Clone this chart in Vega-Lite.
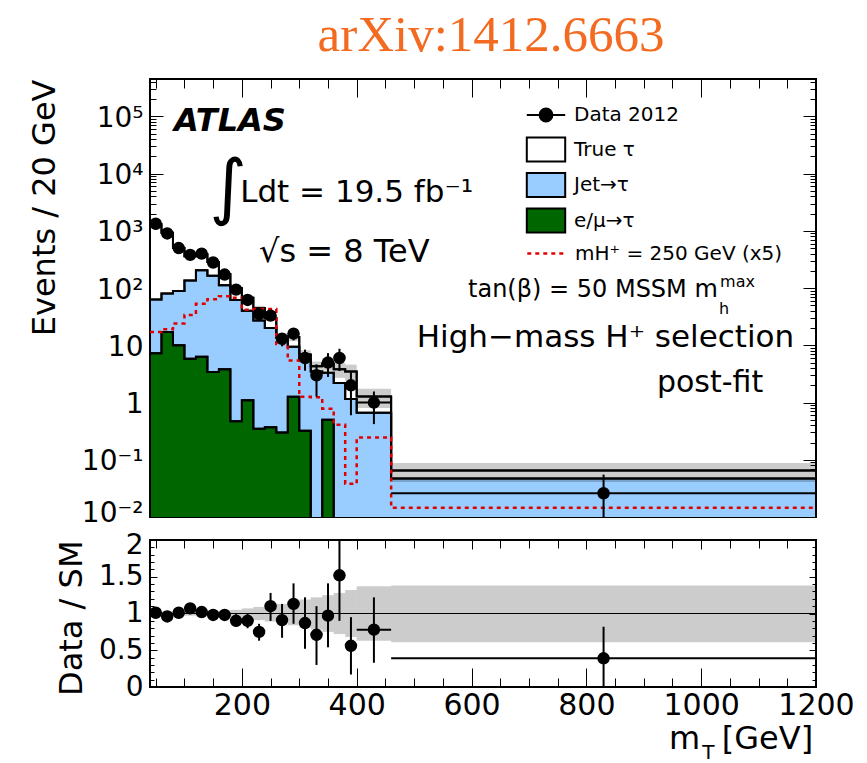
{
"$schema": "https://vega.github.io/schema/vega-lite/v6.json",
"background": "white",
"padding": {"left": 27, "top": 9, "right": 0, "bottom": 0},
"title": {"text": "arXiv:1412.6663", "font": "Liberation Serif", "fontSize": 51, "fontWeight": "normal", "color": "#f26b21", "anchor": "middle", "offset": 16, "dx": 50},
"datasets": {
"bins": [
{"lo":40,"hi":60,"c":50,"emu":7.3,"jet":63,"total":1300,"sig":17,"blo":1261,"bhi":1339,"data":1330,"dlo":1290,"dhi":1370,"ratio":1.01,"rlo":0.99,"rhi":1.03,"ulo":0.97,"uhi":1.03},
{"lo":60,"hi":80,"c":70,"emu":17,"jet":80,"total":930,"sig":19,"blo":902,"bhi":958,"data":900,"dlo":870,"dhi":930,"ratio":0.96,"rlo":0.94,"rhi":0.98,"ulo":0.97,"uhi":1.03},
{"lo":80,"hi":100,"c":90,"emu":10,"jet":89,"total":500,"sig":24,"blo":485,"bhi":515,"data":500,"dlo":478,"dhi":522,"ratio":1.01,"rlo":0.98,"rhi":1.04,"ulo":0.97,"uhi":1.03},
{"lo":100,"hi":120,"c":110,"emu":5.8,"jet":135,"total":360,"sig":34,"blo":349,"bhi":371,"data":380,"dlo":360,"dhi":400,"ratio":1.07,"rlo":1.03,"rhi":1.11,"ulo":0.97,"uhi":1.03},
{"lo":120,"hi":140,"c":130,"emu":6.3,"jet":205,"total":390,"sig":53,"blo":378,"bhi":402,"data":400,"dlo":380,"dhi":420,"ratio":1.02,"rlo":0.98,"rhi":1.06,"ulo":0.97,"uhi":1.03},
{"lo":140,"hi":160,"c":150,"emu":3.4,"jet":165,"total":285,"sig":64,"blo":274,"bhi":296,"data":280,"dlo":263,"dhi":297,"ratio":0.98,"rlo":0.93,"rhi":1.03,"ulo":0.96,"uhi":1.04},
{"lo":160,"hi":180,"c":170,"emu":3.8,"jet":112,"total":175,"sig":72,"blo":168,"bhi":182,"data":172,"dlo":159,"dhi":185,"ratio":0.98,"rlo":0.92,"rhi":1.04,"ulo":0.96,"uhi":1.04},
{"lo":180,"hi":200,"c":190,"emu":0.47,"jet":62,"total":100,"sig":68,"blo":95,"bhi":105,"data":94,"dlo":84,"dhi":104,"ratio":0.9,"rlo":0.82,"rhi":0.99,"ulo":0.95,"uhi":1.05},
{"lo":200,"hi":220,"c":210,"emu":1.1,"jet":40,"total":68,"sig":42,"blo":63,"bhi":73,"data":62,"dlo":54,"dhi":70,"ratio":0.9,"rlo":0.8,"rhi":1.0,"ulo":0.93,"uhi":1.07},
{"lo":220,"hi":240,"c":230,"emu":0.35,"jet":27,"total":45,"sig":43,"blo":41,"bhi":49,"data":35,"dlo":29.4,"dhi":40.1,"ratio":0.75,"rlo":0.63,"rhi":0.86,"ulo":0.91,"uhi":1.09},
{"lo":240,"hi":260,"c":250,"emu":0.37,"jet":20,"total":30,"sig":43,"blo":26.7,"bhi":33.3,"data":33,"dlo":27,"dhi":38.4,"ratio":1.1,"rlo":0.9,"rhi":1.28,"ulo":0.89,"uhi":1.11},
{"lo":260,"hi":280,"c":270,"emu":0.3,"jet":13.5,"total":14.5,"sig":10.5,"blo":12.6,"bhi":16.4,"data":13,"dlo":9.6,"dhi":16.1,"ratio":0.91,"rlo":0.67,"rhi":1.13,"ulo":0.87,"uhi":1.13},
{"lo":280,"hi":300,"c":290,"emu":1.26,"jet":9.4,"total":14,"sig":5.4,"blo":11.8,"bhi":16.2,"data":16,"dlo":12.2,"dhi":20,"ratio":1.13,"rlo":0.86,"rhi":1.41,"ulo":0.84,"uhi":1.16},
{"lo":300,"hi":320,"c":310,"emu":0.32,"jet":5.5,"total":6.9,"sig":1.26,"blo":5.6,"bhi":8.2,"data":6,"dlo":3.6,"dhi":8.4,"ratio":0.87,"rlo":0.52,"rhi":1.22,"ulo":0.81,"uhi":1.19},
{"lo":320,"hi":340,"c":330,"emu":0.001,"jet":3.5,"total":4.3,"sig":1.24,"blo":3.4,"bhi":5.2,"data":3,"dlo":1.27,"dhi":4.65,"ratio":0.71,"rlo":0.3,"rhi":1.1,"ulo":0.78,"uhi":1.22},
{"lo":340,"hi":360,"c":350,"emu":0.5,"jet":3.3,"total":4.8,"sig":0.78,"blo":3.6,"bhi":6.0,"data":5,"dlo":2.8,"dhi":7.3,"ratio":0.97,"rlo":0.54,"rhi":1.41,"ulo":0.75,"uhi":1.25},
{"lo":360,"hi":380,"c":370,"emu":0.001,"jet":2.2,"total":3.8,"sig":0.41,"blo":2.7,"bhi":4.9,"data":6,"dlo":3.55,"dhi":8.7,"ratio":1.52,"rlo":0.9,"rhi":2.2,"ulo":0.72,"uhi":1.28},
{"lo":380,"hi":400,"c":390,"emu":0.001,"jet":1.15,"total":3.5,"sig":0.038,"blo":2.4,"bhi":4.6,"data":2,"dlo":0.6,"dhi":3.4,"ratio":0.56,"rlo":0.17,"rhi":0.95,"ulo":0.68,"uhi":1.32},
{"lo":400,"hi":460,"c":430,"emu":0.001,"jet":0.66,"total":1.27,"sig":0.245,"blo":0.8,"bhi":1.74,"data":1,"dlo":0.42,"dhi":1.56,"ratio":0.78,"rlo":0.33,"rhi":1.22,"ulo":0.63,"uhi":1.37},
{"lo":460,"hi":1200,"c":830,"emu":0.001,"jet":0.047,"total":0.065,"sig":0.0145,"blo":0.041,"bhi":0.088,"data":0.026,"dlo":0.001,"dhi":0.055,"ratio":0.39,"rlo":0,"rhi":0.82,"ulo":0.61,"uhi":1.38}
],
"edges": [
{"lo":40,"emu":7.3,"jet":63,"total":1300,"sig":17},
{"lo":60,"emu":17,"jet":80,"total":930,"sig":19},
{"lo":80,"emu":10,"jet":89,"total":500,"sig":24},
{"lo":100,"emu":5.8,"jet":135,"total":360,"sig":34},
{"lo":120,"emu":6.3,"jet":205,"total":390,"sig":53},
{"lo":140,"emu":3.4,"jet":165,"total":285,"sig":64},
{"lo":160,"emu":3.8,"jet":112,"total":175,"sig":72},
{"lo":180,"emu":0.47,"jet":62,"total":100,"sig":68},
{"lo":200,"emu":1.1,"jet":40,"total":68,"sig":42},
{"lo":220,"emu":0.35,"jet":27,"total":45,"sig":43},
{"lo":240,"emu":0.37,"jet":20,"total":30,"sig":43},
{"lo":260,"emu":0.3,"jet":13.5,"total":14.5,"sig":10.5},
{"lo":280,"emu":1.26,"jet":9.4,"total":14,"sig":5.4},
{"lo":300,"emu":0.32,"jet":5.5,"total":6.9,"sig":1.26},
{"lo":320,"emu":0.001,"jet":3.5,"total":4.3,"sig":1.24},
{"lo":340,"emu":0.5,"jet":3.3,"total":4.8,"sig":0.78},
{"lo":360,"emu":0.001,"jet":2.2,"total":3.8,"sig":0.41},
{"lo":380,"emu":0.001,"jet":1.15,"total":3.5,"sig":0.038},
{"lo":400,"emu":0.001,"jet":0.66,"total":1.27,"sig":0.245},
{"lo":460,"emu":0.001,"jet":0.047,"total":0.065,"sig":0.0145},
{"lo":1200,"emu":0.001,"jet":0.047,"total":0.065,"sig":0.0145}
]
},
"spacing": 23,
"bounds": "flush",
"vconcat": [
{
"width": 666, "height": 438,
"data": {"name": "bins"},
"resolve": {"axis": {"x": "independent", "y": "independent"}},
"layer": [
{"data": {"name": "edges"},
 "mark": {"type": "area", "interpolate": "step-after", "clip": true, "stroke": "black", "strokeWidth": 2},
 "encoding": {
  "x": {"field": "lo", "type": "quantitative", "scale": {"type": "linear", "domain": [40, 1200], "nice": false, "zero": false},
        "axis": {"orient": "bottom", "values": [200,400,600,800,1000], "labels": false, "tickSize": -18, "title": null}},
  "y": {"field": "total", "type": "quantitative", "stack": null, "scale": {"type": "log", "domain": [0.01, 450000], "nice": false},
        "axis": {"orient": "left", "values": [0.01,0.1,1,10,100,1000,10000,100000], "ticks": false, "tickSize": 0, "labelPadding": 7, "labelOffset": {"condition": {"test": "datum.value < 0.05", "value": -4}, "value": 2}, "labelFontSize": 28, "labelOverlap": false, "labelFlush": false,
                 "labelExpr": "datum.value >= 90000 ? '10⁵' : datum.value >= 9000 ? '10⁴' : datum.value >= 900 ? '10³' : datum.value >= 90 ? '10²' : datum.value >= 9 ? '10' : datum.value >= 0.9 ? '1' : datum.value >= 0.09 ? '10⁻¹' : '10⁻²'",
                 "title": "Events / 20 GeV", "titleFontSize": 32, "titleFontWeight": "normal", "titleAnchor": "end", "titleAlign": "right", "titleBaseline": "middle", "titleAngle": 270, "titleX": -106, "titleY": 0}},
  "y2": {"datum": 0.001},
  "fill": {"datum": "True τ", "type": "nominal",
    "scale": {"domain": ["True τ", "Jet→τ", "e/μ→τ"], "range": ["white", "#99ccff", "#006600"]},
    "legend": {"orient": "none", "legendX": 379, "legendY": 53.5, "title": null, "padding": 0, "symbolSize": 1024, "rowPadding": 2.5, "labelFontSize": 20, "labelOffset": 11, "labelLimit": 400, "labelColor": "black", "symbolStrokeWidth": 2, "symbolStrokeColor": "black",
      "encode": {"symbols": {"update": {
        "shape": {"value": "M-1.2,-0.75H1.2V0.75H-1.2Z"},
        "stroke": {"value": "black"},
        "strokeWidth": {"value": 2},
        "opacity": {"value": 1},
        "fillOpacity": {"value": 1}
      }}}}}
 }},
{"data": {"name": "edges"},
 "mark": {"type": "area", "interpolate": "step-after", "clip": true, "stroke": "black", "strokeWidth": 2},
 "encoding": {
  "x": {"field": "lo", "type": "quantitative", "scale": {"type": "linear", "domain": [40, 1200], "nice": false, "zero": false},
        "axis": {"orient": "bottom", "values": [50,100,150,250,300,350,450,500,550,650,700,750,850,900,950,1050,1100,1150], "labels": false, "tickSize": -9, "title": null}},
  "y": {"field": "jet", "type": "quantitative", "stack": null, "scale": {"type": "log", "domain": [0.01, 450000], "nice": false},
        "axis": {"orient": "left", "values": [0.1,1,10,100,1000,10000,100000], "labels": false, "tickSize": -13, "title": null}},
  "y2": {"datum": 0.001},
  "fill": {"datum": "Jet→τ", "type": "nominal", "scale": {"domain": ["True τ", "Jet→τ", "e/μ→τ"], "range": ["white", "#99ccff", "#006600"]}}
 }},
{"data": {"name": "edges"},
 "mark": {"type": "area", "interpolate": "step-after", "clip": true, "stroke": "black", "strokeWidth": 2},
 "encoding": {
  "x": {"field": "lo", "type": "quantitative", "scale": {"type": "linear", "domain": [40, 1200], "nice": false, "zero": false},
        "axis": {"orient": "top", "values": [200,400,600,800,1000], "labels": false, "tickSize": -18, "title": null}},
  "y": {"field": "emu", "type": "quantitative", "stack": null, "scale": {"type": "log", "domain": [0.01, 450000], "nice": false},
        "axis": {"orient": "left", "values": [0.02,0.03,0.04,0.05,0.06,0.07,0.08,0.09,0.2,0.3,0.4,0.5,0.6,0.7,0.8,0.9,2,3,4,5,6,7,8,9,20,30,40,50,60,70,80,90,200,300,400,500,600,700,800,900,2000,3000,4000,5000,6000,7000,8000,9000,20000,30000,40000,50000,60000,70000,80000,90000,200000,300000,400000], "labels": false, "tickSize": -6, "title": null}},
  "y2": {"datum": 0.001},
  "fill": {"datum": "e/μ→τ", "type": "nominal", "scale": {"domain": ["True τ", "Jet→τ", "e/μ→τ"], "range": ["white", "#99ccff", "#006600"]}}
 }},
{"mark": {"type": "rect", "clip": true, "fill": "#000000", "fillOpacity": 0.2},
 "encoding": {
  "x": {"field": "lo", "type": "quantitative", "scale": {"type": "linear", "domain": [40, 1200], "nice": false, "zero": false},
        "axis": {"orient": "top", "values": [50,100,150,250,300,350,450,500,550,650,700,750,850,900,950,1050,1100,1150], "labels": false, "tickSize": -9, "title": null}},
  "x2": {"field": "hi"},
  "y": {"field": "blo", "type": "quantitative", "scale": {"type": "log", "domain": [0.01, 450000], "nice": false},
        "axis": {"orient": "right", "values": [0.1,1,10,100,1000,10000,100000], "labels": false, "tickSize": -13, "title": null}},
  "y2": {"field": "bhi"}
 }},
{"data": {"name": "edges"},
 "transform": [{"fold": ["total", "jet", "emu"], "as": ["series", "val"]}],
 "mark": {"type": "line", "interpolate": "step-after", "color": "black", "strokeWidth": 2, "clip": true},
 "encoding": {
  "x": {"field": "lo", "type": "quantitative", "scale": {"type": "linear", "domain": [40, 1200], "nice": false, "zero": false}, "axis": null},
  "y": {"field": "val", "type": "quantitative", "scale": {"type": "log", "domain": [0.01, 450000], "nice": false},
        "axis": {"orient": "right", "values": [0.02,0.03,0.04,0.05,0.06,0.07,0.08,0.09,0.2,0.3,0.4,0.5,0.6,0.7,0.8,0.9,2,3,4,5,6,7,8,9,20,30,40,50,60,70,80,90,200,300,400,500,600,700,800,900,2000,3000,4000,5000,6000,7000,8000,9000,20000,30000,40000,50000,60000,70000,80000,90000,200000,300000,400000], "labels": false, "tickSize": -6, "title": null}},
  "detail": {"field": "series", "type": "nominal"}
 }},
{"data": {"name": "edges"},
 "mark": {"type": "line", "interpolate": "step-after", "strokeWidth": 2.5, "color": "#e00000", "clip": true},
 "encoding": {
  "x": {"field": "lo", "type": "quantitative", "scale": {"type": "linear", "domain": [40, 1200], "nice": false, "zero": false}, "axis": null},
  "y": {"field": "sig", "type": "quantitative", "scale": {"type": "log", "domain": [0.01, 450000], "nice": false}, "axis": null},
  "strokeDash": {"datum": "mH⁺ = 250 GeV (x5)", "type": "nominal", "scale": {"domain": ["mH⁺ = 250 GeV (x5)"], "range": [[4, 4]]},
    "legend": {"orient": "none", "legendX": 379, "legendY": 157, "title": null, "padding": 0, "symbolSize": 1024, "labelFontSize": 20, "labelOffset": 11, "labelLimit": 400, "labelColor": "black", "symbolStrokeWidth": 2.5, "symbolStrokeColor": "#e00000",
      "encode": {"symbols": {"update": {
        "shape": {"value": "M-1.2,0H1.2"},
        "stroke": {"value": "#e00000"},
        "strokeWidth": {"value": 2.5},
        "opacity": {"value": 1}
      }}}}}
 }},
{"mark": {"type": "rule", "color": "black", "strokeWidth": 2, "clip": true},
 "encoding": {
  "x": {"field": "lo", "type": "quantitative", "scale": {"type": "linear", "domain": [40, 1200], "nice": false, "zero": false}, "axis": null},
  "x2": {"field": "hi"},
  "y": {"field": "data", "type": "quantitative", "scale": {"type": "log", "domain": [0.01, 450000], "nice": false}, "axis": null},
  "opacity": {"datum": "Data 2012", "type": "nominal", "scale": {"domain": ["Data 2012"], "range": [1]},
    "legend": {"orient": "none", "legendX": 379, "legendY": 19, "title": null, "padding": 0, "symbolSize": 1024, "labelFontSize": 20, "labelOffset": 11, "labelLimit": 400, "labelColor": "black", "symbolStrokeWidth": 2, "symbolStrokeColor": "black", "symbolFillColor": "black",
      "encode": {"symbols": {"update": {
        "shape": {"value": "M-1.2,0H1.2M0.4,0A0.4,0.4,0,1,1,-0.4,0A0.4,0.4,0,1,1,0.4,0Z"},
        "stroke": {"value": "black"},
        "fill": {"value": "black"},
        "strokeWidth": {"value": 2},
        "fillOpacity": {"value": 1}
      }}}}}
 }},
{"mark": {"type": "rule", "color": "black", "strokeWidth": 2, "clip": true},
 "encoding": {
  "x": {"field": "c", "type": "quantitative", "scale": {"type": "linear", "domain": [40, 1200], "nice": false, "zero": false}, "axis": null},
  "y": {"field": "dlo", "type": "quantitative", "scale": {"type": "log", "domain": [0.01, 450000], "nice": false}, "axis": null},
  "y2": {"field": "dhi"}
 }},
{"mark": {"type": "point", "filled": true, "size": 120, "opacity": 1, "fill": "black", "stroke": "black", "strokeWidth": 1.5},
 "encoding": {
  "x": {"field": "c", "type": "quantitative", "scale": {"type": "linear", "domain": [40, 1200], "nice": false, "zero": false}, "axis": null},
  "y": {"field": "data", "type": "quantitative", "scale": {"type": "log", "domain": [0.01, 450000], "nice": false}, "axis": null}
 }},
{"data": {"values": [{}]},
 "mark": {"type": "text", "text": "ATLAS", "fontSize": 32, "fontWeight": "bold", "fontStyle": "italic", "align": "left", "baseline": "alphabetic", "color": "black"},
 "encoding": {"x": {"datum": 82, "type": "quantitative", "scale": {"type": "linear", "domain": [40, 1200], "nice": false, "zero": false}, "axis": null},
              "y": {"datum": 56000, "type": "quantitative", "scale": {"type": "log", "domain": [0.01, 450000], "nice": false}, "axis": null}}},
{"data": {"values": [{}]},
 "mark": {"type": "text", "text": "∫", "fontSize": 72, "align": "left", "baseline": "alphabetic", "color": "black"},
 "encoding": {"x": {"datum": 143, "type": "quantitative", "scale": {"type": "linear", "domain": [40, 1200], "nice": false, "zero": false}, "axis": null},
              "y": {"datum": 2240, "type": "quantitative", "scale": {"type": "log", "domain": [0.01, 450000], "nice": false}, "axis": null}}},
{"data": {"values": [{}]},
 "mark": {"type": "text", "text": "Ldt = 19.5 fb⁻¹", "fontSize": 31, "align": "left", "baseline": "alphabetic", "color": "black"},
 "encoding": {"x": {"datum": 197, "type": "quantitative", "scale": {"type": "linear", "domain": [40, 1200], "nice": false, "zero": false}, "axis": null},
              "y": {"datum": 3215, "type": "quantitative", "scale": {"type": "log", "domain": [0.01, 450000], "nice": false}, "axis": null}}},
{"data": {"values": [{}]},
 "mark": {"type": "text", "text": "√s = 8 TeV", "fontSize": 32, "align": "left", "baseline": "alphabetic", "color": "black"},
 "encoding": {"x": {"datum": 230, "type": "quantitative", "scale": {"type": "linear", "domain": [40, 1200], "nice": false, "zero": false}, "axis": null},
              "y": {"datum": 287, "type": "quantitative", "scale": {"type": "log", "domain": [0.01, 450000], "nice": false}, "axis": null}}},
{"data": {"values": [{}]},
 "mark": {"type": "text", "text": "tan(β) = 50 MSSM m", "fontSize": 24, "align": "right", "baseline": "alphabetic", "color": "black"},
 "encoding": {"x": {"datum": 1029, "type": "quantitative", "scale": {"type": "linear", "domain": [40, 1200], "nice": false, "zero": false}, "axis": null},
              "y": {"datum": 70, "type": "quantitative", "scale": {"type": "log", "domain": [0.01, 450000], "nice": false}, "axis": null}}},
{"data": {"values": [{}]},
 "mark": {"type": "text", "text": "max", "fontSize": 16, "align": "left", "baseline": "alphabetic", "color": "black"},
 "encoding": {"x": {"datum": 1033, "type": "quantitative", "scale": {"type": "linear", "domain": [40, 1200], "nice": false, "zero": false}, "axis": null},
              "y": {"datum": 105, "type": "quantitative", "scale": {"type": "log", "domain": [0.01, 450000], "nice": false}, "axis": null}}},
{"data": {"values": [{}]},
 "mark": {"type": "text", "text": "h", "fontSize": 16, "align": "left", "baseline": "alphabetic", "color": "black"},
 "encoding": {"x": {"datum": 1031, "type": "quantitative", "scale": {"type": "linear", "domain": [40, 1200], "nice": false, "zero": false}, "axis": null},
              "y": {"datum": 35.4, "type": "quantitative", "scale": {"type": "log", "domain": [0.01, 450000], "nice": false}, "axis": null}}},
{"data": {"values": [{}]},
 "mark": {"type": "text", "text": "High−mass H⁺ selection", "fontSize": 31, "align": "right", "baseline": "alphabetic", "color": "black"},
 "encoding": {"x": {"datum": 1162, "type": "quantitative", "scale": {"type": "linear", "domain": [40, 1200], "nice": false, "zero": false}, "axis": null},
              "y": {"datum": 9.38, "type": "quantitative", "scale": {"type": "log", "domain": [0.01, 450000], "nice": false}, "axis": null}}},
{"data": {"values": [{}]},
 "mark": {"type": "text", "text": "post-fit", "fontSize": 30, "align": "right", "baseline": "alphabetic", "color": "black"},
 "encoding": {"x": {"datum": 1108, "type": "quantitative", "scale": {"type": "linear", "domain": [40, 1200], "nice": false, "zero": false}, "axis": null},
              "y": {"datum": 1.53, "type": "quantitative", "scale": {"type": "log", "domain": [0.01, 450000], "nice": false}, "axis": null}}}
]
},
{
"width": 666, "height": 147,
"data": {"name": "bins"},
"resolve": {"axis": {"x": "independent", "y": "independent"}},
"layer": [
{"mark": {"type": "rect", "clip": true, "fill": "#000000", "fillOpacity": 0.2},
 "encoding": {
  "x": {"field": "lo", "type": "quantitative", "scale": {"type": "linear", "domain": [40, 1200], "nice": false, "zero": false},
        "axis": {"orient": "bottom", "values": [200,400,600,800,1000,1200], "format": "d", "ticks": false, "tickSize": 0, "labelPadding": 3, "labelFontSize": 30, "labelFlush": false, "labelOverlap": false, "title": null}},
  "x2": {"field": "hi"},
  "y": {"field": "ulo", "type": "quantitative", "scale": {"type": "linear", "domain": [0, 2], "nice": false, "zero": false},
        "axis": {"orient": "left", "values": [0,0.5,1,1.5,2], "format": "~g", "ticks": false, "tickSize": 0, "labelPadding": 7, "labelOffset": {"condition": {"test": "datum.value > 1.9", "value": 5}, "value": 0}, "labelFontSize": 28, "labelFlush": false, "labelOverlap": false,
                 "title": "Data / SM", "titleFontSize": 32, "titleFontWeight": "normal", "titleAnchor": "end", "titleAlign": "right", "titleBaseline": "middle", "titleAngle": 270, "titleX": -79, "titleY": 0}},
  "y2": {"field": "uhi"}
 }},
{"data": {"values": [{}]},
 "mark": {"type": "rule", "color": "black", "strokeWidth": 1},
 "encoding": {"y": {"datum": 1, "type": "quantitative", "scale": {"type": "linear", "domain": [0, 2], "nice": false, "zero": false}, "axis": null}}},
{"mark": {"type": "rule", "color": "black", "strokeWidth": 2, "clip": true},
 "encoding": {
  "x": {"field": "c", "type": "quantitative", "scale": {"type": "linear", "domain": [40, 1200], "nice": false, "zero": false},
        "axis": {"orient": "bottom", "values": [200,400,600,800,1000], "labels": false, "tickSize": -19, "title": null}},
  "y": {"field": "rlo", "type": "quantitative", "scale": {"type": "linear", "domain": [0, 2], "nice": false, "zero": false},
        "axis": {"orient": "left", "values": [0.5,1,1.5], "labels": false, "tickSize": -7, "title": null}},
  "y2": {"field": "rhi"}
 }},
{"mark": {"type": "rule", "color": "black", "strokeWidth": 2, "clip": true},
 "encoding": {
  "x": {"field": "lo", "type": "quantitative", "scale": {"type": "linear", "domain": [40, 1200], "nice": false, "zero": false},
        "axis": {"orient": "bottom", "values": [50,100,150,250,300,350,450,500,550,650,700,750,850,900,950,1050,1100,1150], "labels": false, "tickSize": -9, "title": null}},
  "x2": {"field": "hi"},
  "y": {"field": "ratio", "type": "quantitative", "scale": {"type": "linear", "domain": [0, 2], "nice": false, "zero": false},
        "axis": {"orient": "left", "values": [0.1,0.2,0.3,0.4,0.6,0.7,0.8,0.9,1.1,1.2,1.3,1.4,1.6,1.7,1.8,1.9], "labels": false, "tickSize": -4, "title": null}}
 }},
{"mark": {"type": "point", "filled": true, "size": 120, "opacity": 1, "fill": "black", "stroke": "black", "strokeWidth": 1.5},
 "encoding": {
  "x": {"field": "c", "type": "quantitative", "scale": {"type": "linear", "domain": [40, 1200], "nice": false, "zero": false},
        "axis": {"orient": "top", "values": [200,400,600,800,1000], "labels": false, "tickSize": -9, "title": null}},
  "y": {"field": "ratio", "type": "quantitative", "scale": {"type": "linear", "domain": [0, 2], "nice": false, "zero": false},
        "axis": {"orient": "right", "values": [0.5,1,1.5], "labels": false, "tickSize": -7, "title": null}}
 }},
{"data": {"values": [{}]},
 "mark": {"type": "text", "text": "m", "fontSize": 32, "align": "left", "baseline": "alphabetic", "color": "black"},
 "encoding": {
  "x": {"datum": 944, "type": "quantitative", "scale": {"type": "linear", "domain": [40, 1200], "nice": false, "zero": false},
        "axis": {"orient": "top", "values": [50,100,150,250,300,350,450,500,550,650,700,750,850,900,950,1050,1100,1150], "labels": false, "tickSize": -8, "title": null}},
  "y": {"datum": -0.84, "type": "quantitative", "scale": {"type": "linear", "domain": [0, 2], "nice": false, "zero": false},
        "axis": {"orient": "right", "values": [0.1,0.2,0.3,0.4,0.6,0.7,0.8,0.9,1.1,1.2,1.3,1.4,1.6,1.7,1.8,1.9], "labels": false, "tickSize": -4, "title": null}}
 }},
{"data": {"values": [{}]},
 "mark": {"type": "text", "text": "T", "fontSize": 20, "align": "left", "baseline": "alphabetic", "color": "black"},
 "encoding": {
  "x": {"datum": 1002, "type": "quantitative", "scale": {"type": "linear", "domain": [40, 1200], "nice": false, "zero": false}, "axis": null},
  "y": {"datum": -0.98, "type": "quantitative", "scale": {"type": "linear", "domain": [0, 2], "nice": false, "zero": false}, "axis": null}
 }},
{"data": {"values": [{}]},
 "mark": {"type": "text", "text": "[GeV]", "fontSize": 32, "align": "right", "baseline": "alphabetic", "color": "black"},
 "encoding": {
  "x": {"datum": 1195, "type": "quantitative", "scale": {"type": "linear", "domain": [40, 1200], "nice": false, "zero": false}, "axis": null},
  "y": {"datum": -0.84, "type": "quantitative", "scale": {"type": "linear", "domain": [0, 2], "nice": false, "zero": false}, "axis": null}
 }}
]
}
],
"config": {
 "font": "DejaVu Sans",
 "view": {"stroke": "black", "strokeWidth": 2},
 "axis": {"domain": false, "grid": false, "tickColor": "black", "tickWidth": 1, "labelColor": "black", "titleColor": "black", "labelFont": "DejaVu Sans", "titleFont": "DejaVu Sans"},
 "legend": {"labelFont": "DejaVu Sans"},
 "text": {"font": "DejaVu Sans"}
}
}
